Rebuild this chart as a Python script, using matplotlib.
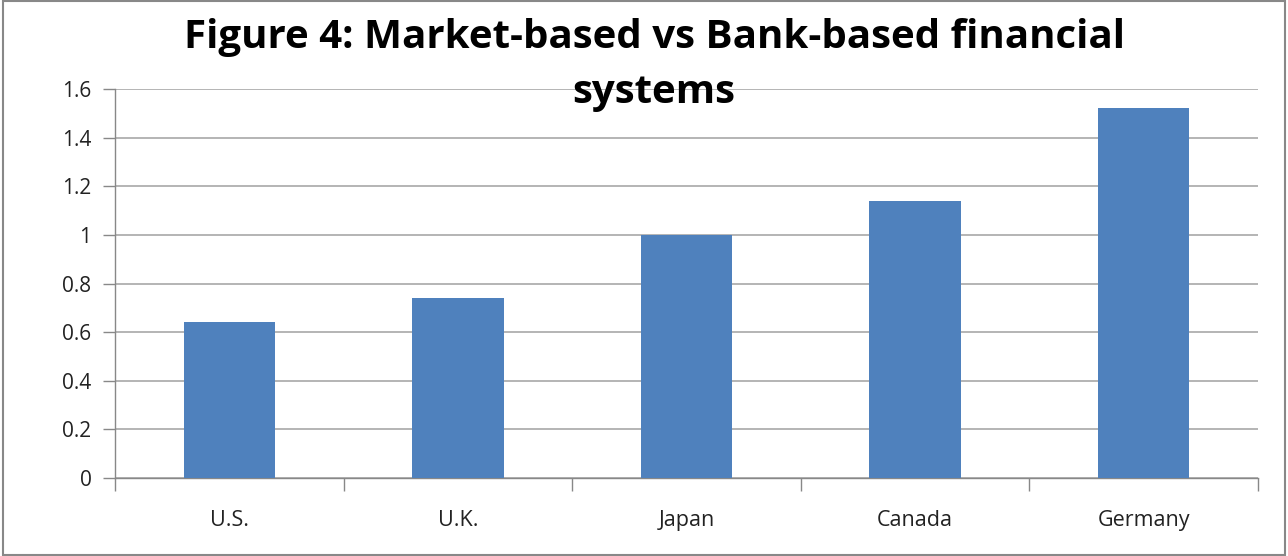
import numpy as np
import matplotlib.pyplot as plt
from matplotlib.patches import Rectangle

countries = ['U.S.', 'U.K.', 'Japan', 'Canada', 'Germany']
values = [0.64, 0.74, 1.0, 1.14, 1.52]
yticks = [0, 0.2, 0.4, 0.6, 0.8, 1, 1.2, 1.4, 1.6]
ytick_labels = ['0', '0.2', '0.4', '0.6', '0.8', '1', '1.2', '1.4', '1.6']

plt.rcParams['font.family'] = ['Open Sans', 'DejaVu Sans']

fig = plt.figure(figsize=(12.88, 5.56), dpi=100)
ax = fig.add_axes([115 / 1288, 1 - 478 / 556, 1143 / 1288, 389 / 556])

x = np.arange(len(countries))
ax.bar(x, values, width=0.4, color='#4F81BD', zorder=3)

ax.set_xlim(-0.5, len(countries) - 0.5)
ax.set_ylim(0, 1.6)
ax.set_yticks(yticks)
ax.set_yticklabels(ytick_labels, fontsize=15, color='#222222')
ax.set_xticks(x)
ax.set_xticklabels(countries, fontsize=15.5, color='#222222')
ax.tick_params(axis='x', length=0, pad=23)
ax.set_xticks(np.arange(-0.5, len(countries)), minor=True)
ax.tick_params(axis='x', which='minor', length=9, color='#888888', width=1)
ax.tick_params(axis='y', length=9, color='#888888', width=1, pad=8)

ax.grid(axis='y', color='#A0A0A0', linewidth=1.1, zorder=0)
for s in ['top', 'right']:
    ax.spines[s].set_visible(False)
for s in ['left', 'bottom']:
    ax.spines[s].set_color('#888888')
    ax.spines[s].set_linewidth(1)

fig.text(654 / 1288, 1 - 18 / 556,
         'Figure 4: Market-based vs Bank-based financial\nsystems',
         ha='center', va='top', fontsize=29, fontweight='bold',
         multialignment='center', linespacing=1.55)

fig.patches.append(Rectangle((0.002, 0.002), 0.996, 0.996, transform=fig.transFigure,
                             fill=False, edgecolor='#888888', linewidth=1.5))

fig.savefig('out.png', dpi=100)
